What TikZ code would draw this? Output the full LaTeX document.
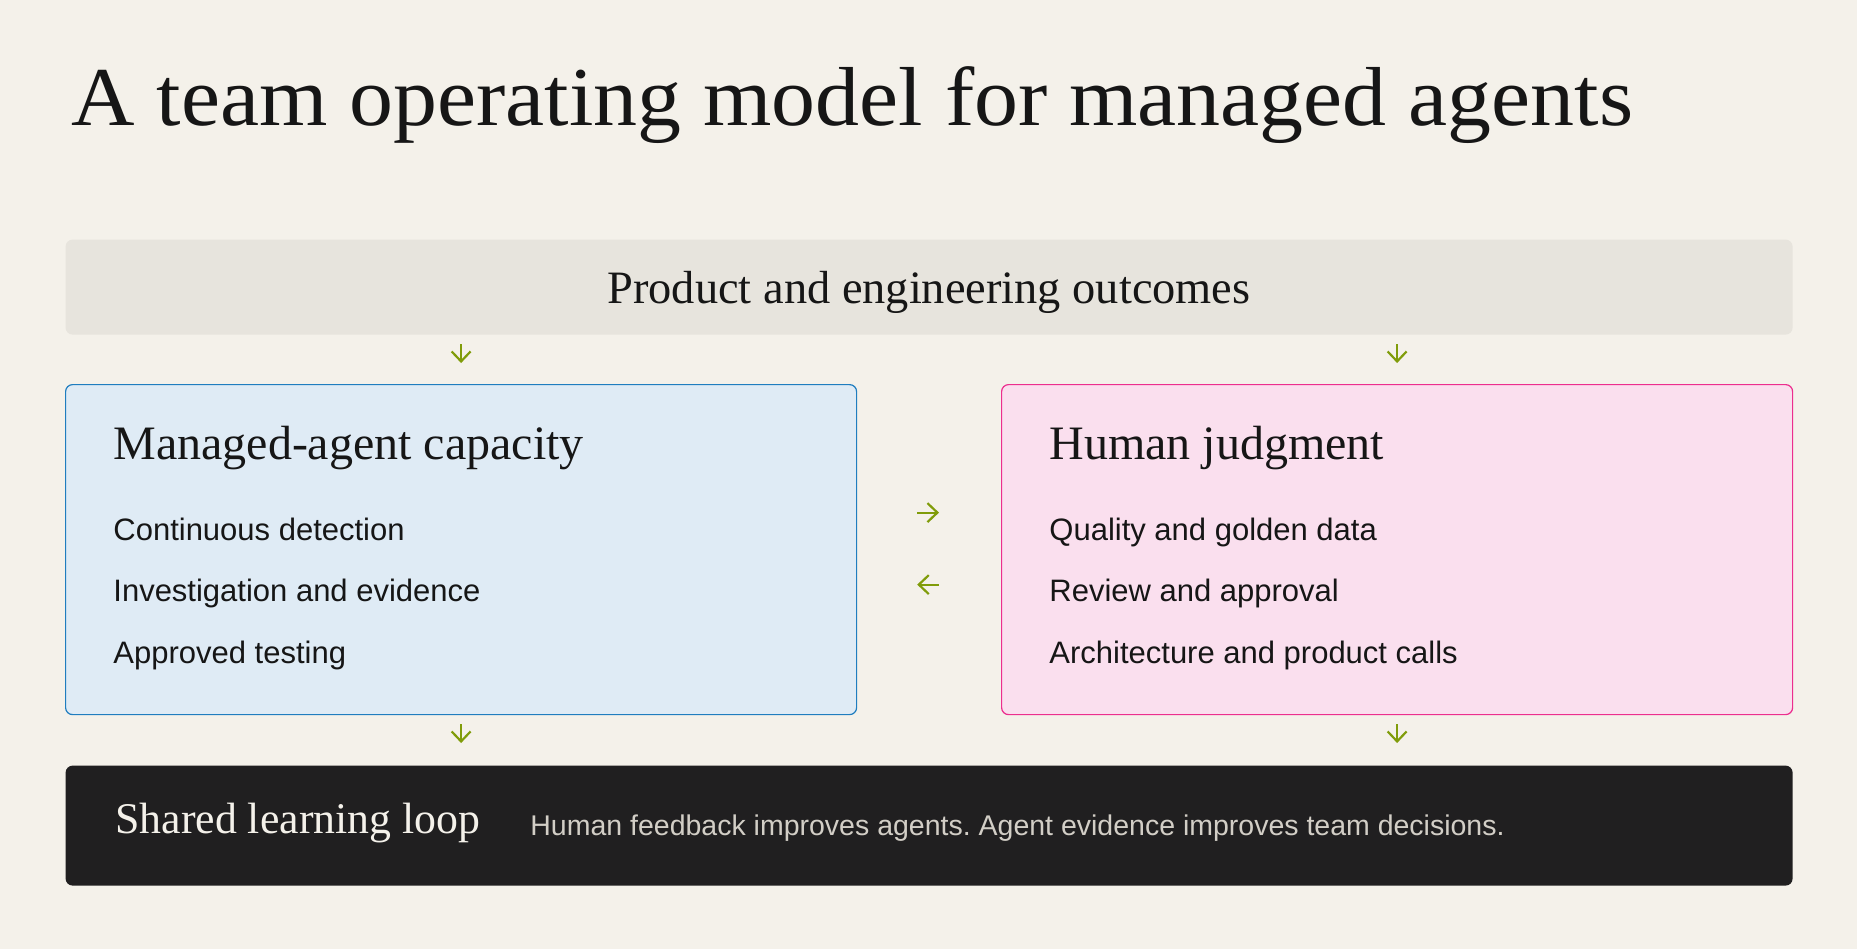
\documentclass[tikz,border=0pt]{standalone}
\usepackage{fontspec}
\setmainfont{Liberation Serif}
\setsansfont{Liberation Sans}
\newfontfamily\titleserif[FakeStretch=1.05]{Liberation Serif}
\frenchspacing
\usetikzlibrary{calc,shapes,arrows.meta,positioning}

\definecolor{paper}{HTML}{F4F1EA}
\definecolor{bandgray}{HTML}{E7E4DD}
\definecolor{capfill}{HTML}{DFEBF5}
\definecolor{capline}{HTML}{1F7DBF}
\definecolor{judgefill}{HTML}{FADFEE}
\definecolor{judgeline}{HTML}{EC2E8E}
\definecolor{loopfill}{HTML}{201F20}
\definecolor{olive}{HTML}{809C0A}
\definecolor{ink}{HTML}{161616}
\definecolor{dimtext}{HTML}{D2CEC6}

\tikzset{
  panel/.style={rectangle, rounded corners=3.5pt, inner sep=0pt, anchor=north west,
    minimum width=395.5pt, minimum height=165pt, line width=0.6pt},
  flow/.style={olive, line width=1.1pt, -{Straight Barb[length=5pt,width=9.5pt]}},
  heading/.style={inner sep=0pt, anchor=base west, text=ink, font=\fontsize{24}{28}\selectfont},
  item/.style={inner sep=0pt, anchor=base west, text=ink, font=\sffamily\fontsize{15.5}{18}\selectfont},
}

\begin{document}
\begin{tikzpicture}[x=0.5pt,y=-0.5pt]
  \fill[paper] (0,0) rectangle (1857,949);
  \useasboundingbox (0,0) rectangle (1857,949);

  %% Title
  \node[inner sep=0pt, anchor=base west, text=ink, font=\titleserif\fontsize{41.85}{50}\selectfont]
    (title) at (71,125) {A team operating model for managed agents};

  %% Outcomes band
  \node[panel, fill=bandgray, draw=none, minimum width=863.5pt, minimum height=47.5pt]
    (outcomes) at (65,239) {};
  \node[inner sep=0pt, anchor=base, text=ink, font=\fontsize{23.2}{27}\selectfont]
    (outcomestext) at (929,303) {Product and engineering outcomes};

  %% The two panels
  \node[panel, fill=capfill, draw=capline] (capacity) at (65,384) {};
  \node[panel, fill=judgefill, draw=judgeline] (judgment) at (1001,384) {};

  \node[heading] (capacityhead) at (113,459) {Managed-agent capacity};
  \node[heading] (judgmenthead) at (1049,459) {Human judgment};

  \foreach \txt [count=\i] in {Continuous detection, Investigation and evidence, Approved testing}
    \node[item] (capitem\i) at (113,{478.5+61.5*\i}) {\txt};
  \foreach \txt [count=\i] in {Quality and golden data, Review and approval, Architecture and product calls}
    \node[item] (judgeitem\i) at (1049,{478.5+61.5*\i}) {\txt};

  %% Shared loop bar
  \node[panel, fill=loopfill, draw=none, minimum width=863.5pt, minimum height=60pt]
    (loop) at (65,765) {};
  \node[inner sep=0pt, anchor=base west, text=paper, font=\fontsize{21.9}{26}\selectfont]
    (looptitle) at (115,833) {Shared learning loop};
  \node[inner sep=0pt, anchor=base west, text=dimtext, font=\sffamily\fontsize{14.25}{17}\selectfont]
    (looptext) at (530,835) {Human feedback improves agents. Agent evidence improves team decisions.};

  %% Arrows
  \foreach \pnl in {capacity,judgment}
  {
    \draw[flow, shorten <=4.5pt, shorten >=10.5pt] (outcomes.south -| \pnl.north) -- (\pnl.north);
    \draw[flow, shorten <=4.5pt, shorten >=11pt] (\pnl.south) -- (\pnl.south |- loop.north);
  }
  \draw[flow, shorten <=30pt, shorten >=31pt] ([yshift=18.5pt]capacity.east) -- ([yshift=18.5pt]judgment.west);
  \draw[flow, shorten <=31pt, shorten >=30pt] ([yshift=-17.5pt]judgment.west) -- ([yshift=-17.5pt]capacity.east);
\end{tikzpicture}
\end{document}
